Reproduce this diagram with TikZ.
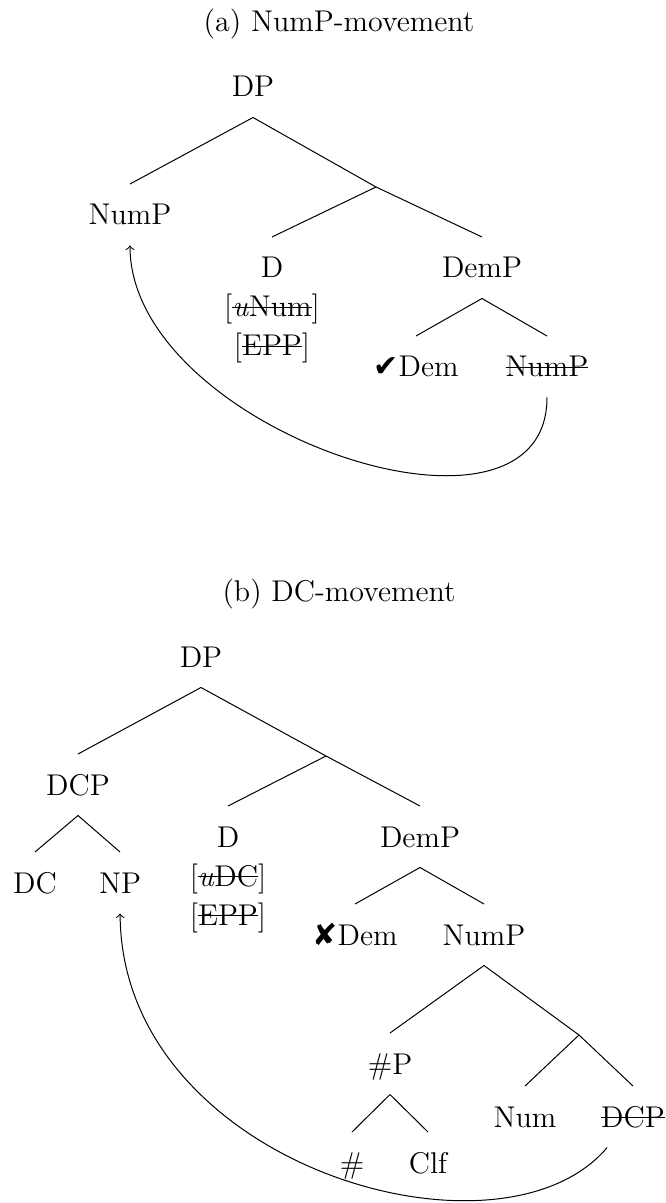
\documentclass[12pt,tikz,border=0pt]{standalone}
\usepackage{fontspec}
\newfontfamily\symfont{DejaVu Sans}

\newsavebox\strikebox
\newcommand\struck[1]{\sbox\strikebox{#1}\rlap{\rule[0.3em]{\wd\strikebox}{0.45pt}}\usebox\strikebox}
\newcommand\okmark{{\symfont ✔}}
\newcommand\badmark{{\symfont ✘}}

\begin{document}
\begin{tikzpicture}[
    x=0.4pt, y=-0.4pt,
    lab/.style={anchor=base, text height=8.2pt, text depth=0pt, inner ysep=8pt, inner xsep=1pt},
    feat/.style={anchor=base, align=center, inner sep=0pt, font=\fontsize{12}{15.6}\selectfont},
    ttl/.style={anchor=base, inner sep=0pt},
    mv/.style={->}
]
\useasboundingbox (0,0) rectangle (665,1203);

% (a) NumP-movement
\node[ttl] (ttla) at (339,32) {(a) NumP-movement};
\node[lab] (dpa) at (253,97) {DP};
\node[lab] (numpa) at (130,225) {NumP};
\coordinate (dbara) at (376,187);
\node[lab] (da) at (272,278) {D};
\node[feat] (fa) at (272,356) {[\struck{\textit{u}Num}]\\{[}\struck{EPP}]};
\node[lab] (dempa) at (482,278) {DemP};
\node[lab] (dema) at (416,377) {\okmark Dem};
\node[lab] (numpta) at (547,377) {\struck{NumP}};

% Edges
\draw (dpa.south) -- (numpa.north);
\draw (dpa.south) -- (dbara);
\draw (dbara) -- (da.north);
\draw (dbara) -- (dempa.north);
\draw (dempa.south) -- (dema.north);
\draw (dempa.south) -- (numpta.north);

% Movement
\draw[mv] (numpta) .. controls +(0,203) and +(0,215) .. (numpa);

% (b) DC-movement
\node[ttl] (ttlb) at (339,601) {(b) DC-movement};
\node[lab] (dpb) at (201,667) {DP};
\node[lab] (dcp) at (78,795) {DCP};
\coordinate (dbarb) at (326,756);
\node[lab] (db) at (228,847) {D};
\node[feat] (fb) at (228,925) {[\struck{\textit{u}DC}]\\{[}\struck{EPP}]};
\node[lab] (dempb) at (420,847) {DemP};
\node[lab] (dc) at (35,893) {DC};
\node[lab] (npb) at (120,893) {NP};
\node[lab] (demb) at (355,945) {\badmark Dem};
\node[lab] (numpb) at (484,945) {NumP};
\node[lab] (hashp) at (390,1074) {\#P};
\coordinate (numbar) at (579,1035);
\node[lab] (num) at (525,1127) {Num};
\node[lab] (dcpt) at (633,1127) {\struck{DCP}};
\node[lab] (hash) at (352,1173) {\#};
\node[lab] (clf) at (428,1173) {Clf};

% Edges
\draw (dpb.south) -- (dcp.north);
\draw (dpb.south) -- (dbarb);
\draw (dbarb) -- (db.north);
\draw (dbarb) -- (dempb.north);
\draw (dcp.south) -- (dc.north);
\draw (dcp.south) -- (npb.north);
\draw (dempb.south) -- (demb.north);
\draw (dempb.south) -- (numpb.north);
\draw (numpb.south) -- (hashp.north);
\draw (numpb.south) -- (numbar);
\draw (numbar) -- (num.north);
\draw (numbar) -- (dcpt.north);
\draw (hashp.south) -- (hash.north);
\draw (hashp.south) -- (clf.north);

% Movement
\draw[mv] (dcpt) .. controls +(-133,158) and +(1,282) .. (npb);

\end{tikzpicture}
\end{document}
